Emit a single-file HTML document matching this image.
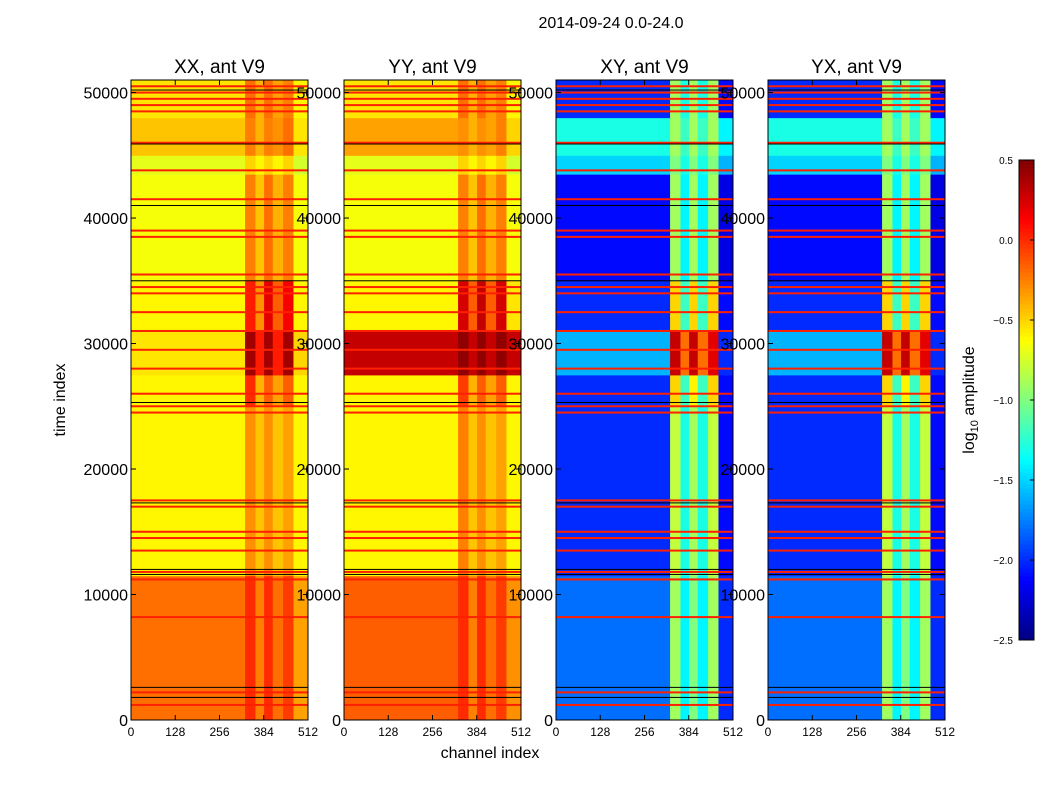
<!DOCTYPE html>
<html><head><meta charset="utf-8"><style>
body{margin:0;background:#fff;}
svg text{font-family:"Liberation Sans",sans-serif;}
</style></head><body>
<svg id="fig" width="1050" height="800" xmlns="http://www.w3.org/2000/svg">
<rect width="1050" height="800" fill="#fff"/>
<text x="611" y="28" font-size="16" text-anchor="middle">2014-09-24 0.0-24.0</text>
<text x="490" y="758" font-size="16" text-anchor="middle">channel index</text>
<text transform="translate(65,400) rotate(-90)" font-size="16" text-anchor="middle">time index</text>
<text transform="translate(974,400) rotate(-90)" font-size="16" text-anchor="middle">log<tspan font-size="11" dy="4">10</tspan><tspan dy="-4"> amplitude</tspan></text>
</svg>
<script>
const titles=["XX, ant V9","YY, ant V9","XY, ant V9","YX, ant V9"];
const panelNames=["xx","yy","xy","yx"];
const chanEdges=[0,330,360,385,410,440,470,512];
const timeEdges=[0,11500,25000,27500,31000,35000,43500,45000,48000,51000];
const yTicks=[0,10000,20000,30000,40000,50000];
const xTicks=[0,128,256,384,512];
const cbTicks=[-2.5,-2.0,-1.5,-1.0,-0.5,0.0,0.5];
const valsXX=[
[-0.2,0.0,-0.25,0.0,-0.2,-0.05,-0.35],
[-0.6,-0.3,-0.45,-0.3,-0.45,-0.35,-0.6],
[-0.6,0.0,-0.4,-0.15,-0.35,-0.15,-0.6],
[-0.55,0.4,0.05,0.4,0.05,0.4,-0.5],
[-0.6,0.05,-0.3,0.2,-0.15,0.15,-0.6],
[-0.65,-0.25,-0.45,-0.2,-0.4,-0.25,-0.65],
[-0.7,-0.5,-0.6,-0.5,-0.6,-0.5,-0.75],
[-0.45,-0.25,-0.4,-0.25,-0.3,-0.2,-0.55],
[-0.55,-0.2,-0.4,-0.2,-0.35,-0.25,-0.6]];
const valsYY=[
[-0.15,0.0,-0.25,0.0,-0.2,-0.05,-0.3],
[-0.6,-0.25,-0.45,-0.3,-0.45,-0.35,-0.6],
[-0.6,-0.05,-0.4,-0.15,-0.35,-0.15,-0.6],
[0.3,0.45,0.3,0.45,0.3,0.45,0.3],
[-0.6,0.25,-0.15,0.3,-0.15,0.25,-0.55],
[-0.65,-0.25,-0.45,-0.2,-0.4,-0.25,-0.65],
[-0.7,-0.5,-0.6,-0.5,-0.6,-0.5,-0.75],
[-0.35,-0.3,-0.4,-0.3,-0.35,-0.25,-0.5],
[-0.55,-0.2,-0.4,-0.2,-0.35,-0.25,-0.6]];
const valsXY=[
[-1.8,-0.9,-1.4,-1.0,-1.4,-0.9,-2.0],
[-2.0,-0.8,-1.3,-0.9,-1.3,-0.8,-2.1],
[-2.0,-0.5,-1.2,-0.6,-1.2,-0.5,-2.1],
[-1.6,0.3,-0.2,0.3,-0.2,0.2,-2.0],
[-2.0,-0.5,-1.2,-0.5,-1.2,-0.5,-2.1],
[-2.1,-0.9,-1.4,-0.9,-1.4,-0.9,-2.2],
[-1.5,-1.0,-1.3,-1.0,-1.3,-1.0,-1.6],
[-1.3,-0.9,-1.2,-0.9,-1.2,-0.9,-1.4],
[-2.0,-0.9,-1.3,-0.9,-1.3,-0.9,-2.1]];
const valsYX=[
[-1.8,-0.9,-1.4,-1.0,-1.4,-0.9,-2.0],
[-2.0,-0.8,-1.3,-0.9,-1.3,-0.8,-2.1],
[-2.0,-0.5,-1.2,-0.6,-1.2,-0.5,-2.1],
[-1.6,0.3,-0.2,0.3,-0.2,0.2,-2.0],
[-2.0,-0.5,-1.2,-0.5,-1.2,-0.5,-2.1],
[-2.1,-0.9,-1.4,-0.9,-1.4,-0.9,-2.2],
[-1.5,-1.0,-1.3,-1.0,-1.3,-1.0,-1.6],
[-1.3,-0.9,-1.2,-0.9,-1.2,-0.9,-1.4],
[-2.0,-0.9,-1.3,-0.9,-1.3,-0.9,-2.1]];
const flagTimes=[1200,2200,8200,11200,11800,13500,14500,15000,17000,17500,24500,25000,26000,28000,29500,31000,32500,34000,34500,35500,38500,39000,41500,43800,46000,48500,49000,49500,50000,50500];
const blackTimes=[1800,2600,11600,12000,17300,25300,35000,41000,45900,50200];
const panelVals=[valsXX,valsYY,valsXY,valsYX];
const panelLeft=[131,344,556,768];
const PW=177, PT=80, PB=720, TMAX=51000, VMIN=-2.5, VMAX=0.5;
const NS="http://www.w3.org/2000/svg";
const svg=document.getElementById('fig');
function jet(v){let t=(v-VMIN)/(VMAX-VMIN);t=Math.max(0,Math.min(1,t));
 const r=Math.max(0,Math.min(1,1.5-Math.abs(4*t-3))),g=Math.max(0,Math.min(1,1.5-Math.abs(4*t-2))),b=Math.max(0,Math.min(1,1.5-Math.abs(4*t-1)));
 return `rgb(${Math.round(r*255)},${Math.round(g*255)},${Math.round(b*255)})`;}
function mk(tag,attrs){const e=document.createElementNS(NS,tag);for(const k in attrs)e.setAttribute(k,attrs[k]);svg.appendChild(e);return e;}
const yS=t=>PB-(t/TMAX)*(PB-PT);
panelVals.forEach((vals,p)=>{
 const L=panelLeft[p];const xS=c=>L+c/512*PW;
 vals.forEach((row,j)=>row.forEach((v,i)=>{
  const r=mk('rect',{x:xS(chanEdges[i]),y:yS(timeEdges[j+1]),width:xS(chanEdges[i+1])-xS(chanEdges[i])+0.5,height:yS(timeEdges[j])-yS(timeEdges[j+1])+0.5,fill:jet(v)});
  
  
 }));
 flagTimes.forEach(t=>{const l=mk('rect',{x:L,y:yS(t)-1,width:PW,height:2,fill:'#ff2000'});
  
  });
 blackTimes.forEach(t=>{const l=mk('rect',{x:L,y:yS(t)-0.5,width:PW,height:1,fill:'#000'});
  
  });
 const fr=mk('rect',{x:L,y:PT,width:PW,height:PB-PT,fill:'none',stroke:'#000','stroke-width':1});
 
 
 const tt=mk('text',{x:L+PW/2,y:73,'font-size':19,'text-anchor':'middle'});tt.textContent=titles[p];
 
 
 yTicks.forEach(t=>{const y=yS(t);
  mk('line',{x1:L,x2:L+5,y1:y,y2:y,stroke:'#000'});mk('line',{x1:L+PW-5,x2:L+PW,y1:y,y2:y,stroke:'#000'});
  const tx=mk('text',{x:L-3,y:y+6,'font-size':16,'text-anchor':'end'});tx.textContent=t;
  
  });
 xTicks.forEach(c=>{const x=xS(c);
  mk('line',{x1:x,x2:x,y1:PB,y2:PB-5,stroke:'#000'});mk('line',{x1:x,x2:x,y1:PT,y2:PT+5,stroke:'#000'});
  const tx=mk('text',{x:x,y:736,'font-size':12,'text-anchor':'middle'});tx.textContent=c;
  
  });
});
// colorbar
const CBX=1019,CBW=15,CBT=160,CBB=640;
const cbY=v=>CBB-(v-VMIN)/(VMAX-VMIN)*(CBB-CBT);
for(let k=0;k<120;k++){const v0=VMIN+(VMAX-VMIN)*k/120,v1=VMIN+(VMAX-VMIN)*(k+1)/120;
 const r=mk('rect',{x:CBX,y:cbY(v1),width:CBW,height:cbY(v0)-cbY(v1)+0.5,fill:jet((v0+v1)/2)});
 
 }
const cbf=mk('rect',{x:CBX,y:CBT,width:CBW,height:CBB-CBT,fill:'none',stroke:'#000'});


cbTicks.forEach(v=>{const y=cbY(v);mk('line',{x1:CBX+CBW-4,x2:CBX+CBW,y1:y,y2:y,stroke:'#000'});
 const tx=mk('text',{x:CBX-6,y:y+4,'font-size':10,'text-anchor':'end'});tx.textContent=v.toFixed(1).replace('-','−');
 
 });
</script>
</body></html>
